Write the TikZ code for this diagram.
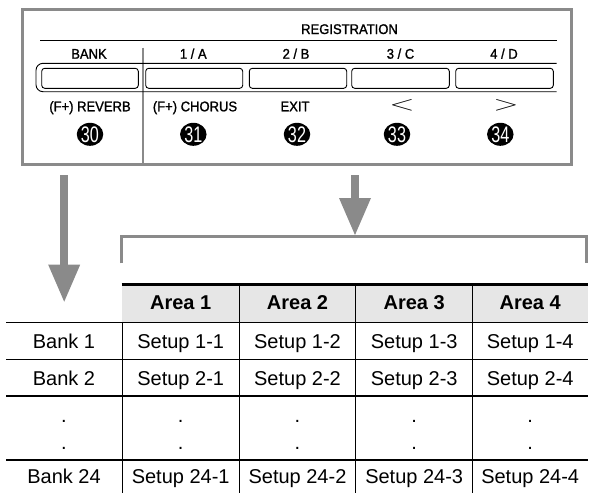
\documentclass[tikz,border=0pt]{standalone}
\usepackage{fontspec}
\setmainfont{Liberation Sans}
\newfontfamily\panelfont[FakeBold=1.3,FakeStretch=0.93]{Liberation Sans}
\newfontfamily\circfont[FakeStretch=0.72]{Liberation Sans}
\usetikzlibrary{arrows.meta,shapes.geometric}
\definecolor{framegray}{HTML}{8A8A8A}
\definecolor{headfill}{HTML}{E6E6E6}
\tikzset{
  paneltext/.style={anchor=base,inner sep=0pt,font=\panelfont\fontsize{14}{16}\selectfont},
  numbadge/.style={ellipse,fill=black,text=white,inner sep=0pt,minimum width=26.5pt,minimum height=23pt,font=\circfont\fontsize{22.5}{22.5}\selectfont},
  keybtn/.style={draw=black,line width=0.9pt,rounded corners=3pt},
  celltext/.style={anchor=base,inner sep=0pt,font=\fontsize{20}{24}\selectfont},
  headtext/.style={anchor=base,inner sep=0pt,font=\bfseries\fontsize{20}{24}\selectfont},
  bigarrow/.style={draw=framegray,line width=8.3pt,-{Triangle[width=32pt,length=37pt,line width=0pt]}},
  gridline/.style={draw=black,line width=1.2pt},
}
\begin{document}
\begin{tikzpicture}[x=1pt,y=-1pt]
\useasboundingbox (0,0) rectangle (589,493);
% ---------- panel ----------
\draw[framegray,line width=3pt] (22,9.3) rectangle (571.3,164);
\draw[framegray,line width=2.6pt] (143,47.7) -- (143,164);
\draw[black,line width=1.3pt] (40,40.7) -- (556.7,40.7);
\node[paneltext] (reg) at (349.5,34) {REGISTRATION};
% key strip
\draw[black,line width=0.9pt,rounded corners=7pt] (556.7,63.3) -- (36,63.3) -- (36,91.7) -- (556.7,91.7);
\draw[keybtn] (41.7,68.3) rectangle (138.3,88.3);
\draw[keybtn] (145.7,68.3) rectangle (242.7,88.3);
\draw[keybtn] (249.3,68.3) rectangle (346.7,88.3);
\draw[keybtn] (351.7,68.3) rectangle (449.3,88.3);
\draw[keybtn] (455.7,68.3) rectangle (553.3,88.3);
% labels above
\node[paneltext] (lbank) at (89,58.7) {BANK};
\node[paneltext] (l1) at (193.3,58.7) {1 / A};
\node[paneltext] (l2) at (296,58.7) {2 / B};
\node[paneltext] (l3) at (400.5,58.7) {3 / C};
\node[paneltext] (l4) at (504,58.7) {4 / D};
% labels below
\node[paneltext] (f30) at (90,111.3) {(F+) REVERB};
\node[paneltext] (f31) at (195,111.3) {(F+) CHORUS};
\node[paneltext] (f32) at (295,111.3) {EXIT};
\node[inner sep=0pt] (f33) at (402,105.8) {\scalebox{1.6}[1]{\fontsize{20}{20}\selectfont$<$}};
\node[inner sep=0pt] (f34) at (506,105.8) {\scalebox{1.6}[1]{\fontsize{20}{20}\selectfont$>$}};
% numbers
\node[numbadge] (n30) at (90,134.3) {30};
\node[numbadge] (n31) at (193.3,134.3) {31};
\node[numbadge] (n32) at (297,134.3) {32};
\node[numbadge] (n33) at (397,134.3) {33};
\node[numbadge] (n34) at (500.3,134.3) {34};
% ---------- arrows ----------
\coordinate (la1) at (64.2,175);
\coordinate (la2) at (64.2,301.7);
\coordinate (ra1) at (355,175);
\coordinate (ra2) at (355,235);
\draw[bigarrow] (la1) -- (la2);
\draw[bigarrow] (ra1) -- (ra2);
% bracket
\coordinate (bk1) at (121.7,263.3);
\coordinate (bk2) at (121.7,236.7);
\coordinate (bk3) at (586.7,236.7);
\coordinate (bk4) at (586.7,263.3);
\draw[framegray,line width=2.7pt] (bk1) -- (bk2) -- (bk3) -- (bk4);
% ---------- table ----------
\fill[headfill] (121.7,285) rectangle (587.7,322.3);
\draw[black,line width=2.7pt] (121.7,284.3) -- (587.7,284.3);
\foreach \yy in {322.3,359.3,396,460} \draw[gridline] (6,\yy) -- (587.7,\yy);
\draw[gridline] (122.3,322.3) -- (122.3,493);
\foreach \xx in {239.3,355.7,472.7} \draw[gridline] (\xx,285) -- (\xx,493);
% header
\node[headtext] (h1) at (180.7,309.9) {Area 1};
\node[headtext] (h2) at (297.5,309.9) {Area 2};
\node[headtext] (h3) at (414.2,309.9) {Area 3};
\node[headtext] (h4) at (530.2,309.9) {Area 4};
% rows
\node[celltext] (b1) at (64,348.5) {Bank 1};
\node[celltext] (s11) at (180.7,348.5) {Setup 1-1};
\node[celltext] (s12) at (297.5,348.5) {Setup 1-2};
\node[celltext] (s13) at (414.2,348.5) {Setup 1-3};
\node[celltext] (s14) at (530.2,348.5) {Setup 1-4};
\node[celltext] (b2) at (64,385.3) {Bank 2};
\node[celltext] (s21) at (180.7,385.3) {Setup 2-1};
\node[celltext] (s22) at (297.5,385.3) {Setup 2-2};
\node[celltext] (s23) at (414.2,385.3) {Setup 2-3};
\node[celltext] (s24) at (530.2,385.3) {Setup 2-4};
\foreach \xx/\nm in {64/db,180.7/d1,297.5/d2,414.2/d3,530.2/d4}{
  \node[celltext] (\nm a) at (\xx,422.5) {.};
  \node[celltext] (\nm b) at (\xx,449) {.};
}
\node[celltext] (b24) at (64,483) {Bank 24};
\node[celltext] (s241) at (180.7,483) {Setup 24-1};
\node[celltext] (s242) at (297.5,483) {Setup 24-2};
\node[celltext] (s243) at (414.2,483) {Setup 24-3};
\node[celltext] (s244) at (530.2,483) {Setup 24-4};
\end{tikzpicture}
\end{document}
